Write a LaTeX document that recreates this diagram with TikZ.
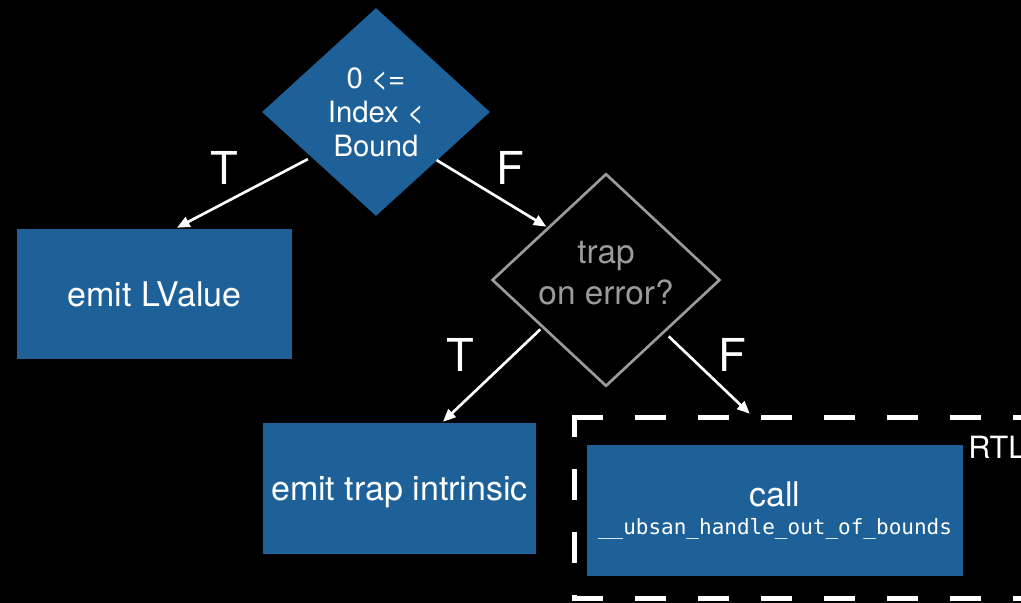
\documentclass[tikz,border=0pt]{standalone}
\usepackage{fontspec}
\setmainfont{TeX Gyre Heros}
\newfontfamily\codefont{DejaVu Sans Mono}
\usetikzlibrary{shapes.geometric,arrows.meta,calc}
\definecolor{boxblue}{RGB}{30,97,153}
\definecolor{dimgray}{RGB}{155,155,155}
\begin{document}
\begin{tikzpicture}[x=0.75pt,y=-0.75pt,
  decision/.style={diamond, inner sep=0pt, align=center,
    minimum width=171pt},
  action/.style={rectangle, fill=boxblue, text=white, align=center,
    inner sep=0pt},
  flow/.style={draw=white, line width=2pt,
    -{Triangle[length=9.5pt,width=8pt]}},
  branch/.style={text=white, inner sep=0pt,
    font=\fontsize{34}{34}\selectfont},
  framedash/.style={draw=white, line width=3.75pt, line cap=rect,
    dash pattern=on 19.5pt off 27.75pt}]

% canvas
\fill[black] (0,0) rectangle (1021,603);
\useasboundingbox (0,0) rectangle (1021,603);

% decisions
\node[decision, fill=boxblue, text=white, minimum height=156pt,
      font=\fontsize{22}{25.5}\selectfont] (cond) at (376,112)
      {0 <=\\Index <\\Bound};
\node[decision, draw=dimgray, line width=2pt, text=dimgray,
      minimum height=157.5pt, text depth=10.5pt,
      font=\fontsize{25}{31}\selectfont]
      (trap) at (606,280) {trap\\on error?};

% actions
\node[action, minimum width=206.25pt, minimum height=97.5pt,
      font=\fontsize{25.5}{29}\selectfont] (lv) at (154.5,294)
      {emit LValue};
\node[action, minimum width=204.75pt, minimum height=98.25pt,
      text depth=0pt, font=\fontsize{25.5}{29}\selectfont]
      (trapbox) at (399.5,488.5) {emit trap intrinsic};
\node[action, minimum width=282pt, minimum height=98.25pt,
      text depth=4pt, font=\fontsize{25.5}{21}\selectfont]
      (callbox) at (775,510.5)
      {call\\
       {\codefont\fontsize{15.75}{21}\selectfont \_\_ubsan\_handle\_out\_of\_bounds}};

% runtime-library frame (right side runs past the edge)
\node[rectangle, inner sep=0pt, minimum width=363.75pt,
      minimum height=135pt] (rtlframe) at (817.5,508) {};
\draw[framedash] (rtlframe.north west) -- (rtlframe.north east);
\draw[framedash] (rtlframe.south west) -- (rtlframe.south east);
\draw[framedash, dash phase=7.125pt] (rtlframe.north west) -- (rtlframe.south west);
\node[anchor=base west, inner sep=0pt, text=white,
      font=\fontsize{23}{23}\selectfont] (rtl) at (968,458) {RTL};

% connectors
\draw[flow] ($(cond.south west)+(-11,-5)$) -- ($(lv.north)+(22.5,-1)$);
\draw[flow] ($(cond.south east)+(3.5,-4)$) -- ($(trap.north west)+(-2,0.5)$);
\draw[flow] ($(trap.south west)+(-8,-4.5)$) -- ($(trapbox.north)+(43.5,-1)$);
\draw[flow] ($(trap.south east)+(5,2.5)$) -- ($(rtlframe.north west)+(175,-4)$);

% branch labels
\node[branch] (t1) at (224,168) {T};
\node[branch] (f1) at (510,168) {F};
\node[branch] (t2) at (460,355) {T};
\node[branch] (f2) at (732,355) {F};
\end{tikzpicture}
\end{document}
